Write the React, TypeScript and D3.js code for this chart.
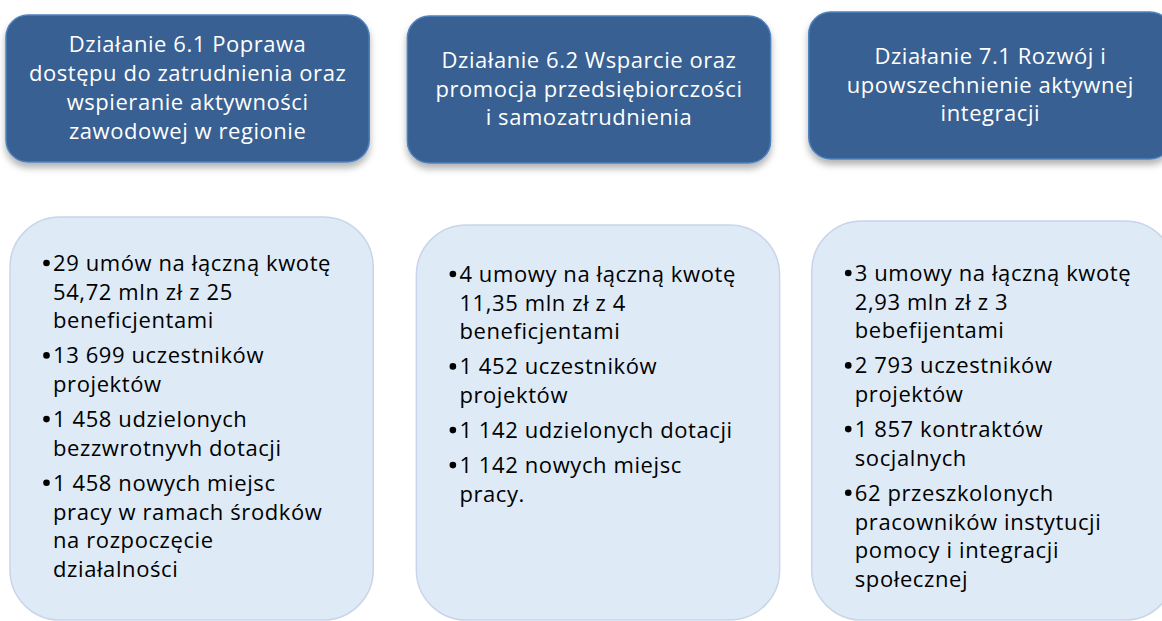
import React, { useEffect, useRef } from 'react';
import * as d3 from 'd3';

// three columns of the diagram
const columns = ['6.1', '6.2', '7.1'];

const headerLines = [
  ['Działanie 6.1 Poprawa', 'dostępu do zatrudnienia oraz', 'wspieranie aktywności', 'zawodowej w regionie'],
  ['Działanie 6.2 Wsparcie oraz', 'promocja przedsiębiorczości', 'i samozatrudnienia'],
  ['Działanie 7.1 Rozwój i', 'upowszechnienie aktywnej', 'integracji'],
];

// bullets, each bullet already broken into lines
const bullets61 = [
  ['29 umów na łączną kwotę', '54,72 mln zł z 25', 'beneficjentami'],
  ['13 699 uczestników', 'projektów'],
  ['1 458 udzielonych', 'bezzwrotnyvh dotacji'],
  ['1 458 nowych miejsc', 'pracy w ramach środków', 'na rozpoczęcie', 'działalności'],
];
const bullets62 = [
  ['4 umowy na łączną kwotę', '11,35 mln zł z 4', 'beneficjentami'],
  ['1 452 uczestników', 'projektów'],
  ['1 142 udzielonych dotacji'],
  ['1 142 nowych miejsc', 'pracy.'],
];
const bullets71 = [
  ['3 umowy na łączną kwotę', '2,93 mln zł z 3', 'bebefijentami'],
  ['2 793 uczestników', 'projektów'],
  ['1 857 kontraktów', 'socjalnych'],
  ['62 przeszkolonych', 'pracowników instytucji', 'pomocy i integracji', 'społecznej'],
];
const bulletLists = [bullets61, bullets62, bullets71];

const FONT = '"Open Sans", Lato, sans-serif';

const Diagram = () => {
  const svgRef = useRef<SVGSVGElement>(null);

  useEffect(() => {
    const width = 1162;
    const height = 621;
    const svg = d3.select(svgRef.current);
    svg.selectAll('*').remove();
    svg.attr('width', width).attr('height', height);

    const x = d3.scaleBand<string>()
      .domain(columns)
      .range([6, 1172])
      .paddingInner(0.095)
      .paddingOuter(0);
    const bw = x.bandwidth();

    const defs = svg.append('defs');
    const f = defs.append('filter').attr('id', 'shadow')
      .attr('x', '-10%').attr('y', '-10%').attr('width', '120%').attr('height', '140%');
    f.append('feDropShadow')
      .attr('dx', 0).attr('dy', 5).attr('stdDeviation', 3.5)
      .attr('flood-color', '#000').attr('flood-opacity', 0.3);

    const headTop = 15;
    const headH = 147;
    const headShift = [0, 1, -3];
    const lineH = 28.7;

    // header boxes
    const heads = svg.selectAll('.head')
      .data(columns)
      .enter()
      .append('g')
      .classed('head', true);

    heads.append('rect')
      .attr('x', d => x(d)!)
      .attr('y', (d, i) => headTop + headShift[i])
      .attr('width', bw)
      .attr('height', headH)
      .attr('rx', 22)
      .attr('fill', '#376092')
      .attr('stroke', '#4f81bd')
      .attr('stroke-width', 1.5)
      .attr('filter', 'url(#shadow)');

    heads.each(function (d, i) {
      const lines = headerLines[i];
      const cy = headTop + headShift[i] + headH / 2;
      const firstBase = cy - ((lines.length - 1) * lineH) / 2 + 7;
      d3.select(this).selectAll('text')
        .data(lines)
        .enter()
        .append('text')
        .attr('x', x(d)! + bw / 2)
        .attr('y', (_, j) => firstBase + j * lineH)
        .attr('text-anchor', 'middle')
        .style('font-family', FONT)
        .style('font-size', '22px')
        .style('letter-spacing', '0.55px')
        .style('fill', 'white')
        .text(t => t);
    });

    // bullet boxes
    const boxTop = 220;
    const boxH = 400;
    const gap = 6.3;
    const boxShift = [4, 9, 3];
    const boxDrop = [-3, 5, 1];
    const firstLine = [54, 57, 60];

    const boxes = svg.selectAll('.box')
      .data(columns)
      .enter()
      .append('g')
      .classed('box', true);

    boxes.append('rect')
      .attr('x', (d, i) => x(d)! + boxShift[i])
      .attr('y', (d, i) => boxTop + boxDrop[i])
      .attr('width', bw)
      .attr('height', (d, i) => boxH - boxDrop[i])
      .attr('rx', 50)
      .attr('fill', '#deeaf6')
      .attr('stroke', '#c8d5ea')
      .attr('stroke-width', 1.5);

    boxes.each(function (d, i) {
      const g = d3.select(this);
      const left = x(d)! + boxShift[i];
      let y = boxTop + boxDrop[i] + firstLine[i];
      bulletLists[i].forEach(item => {
        // bullet dot
        g.append('circle')
          .attr('cx', left + 36.5)
          .attr('cy', y - 8)
          .attr('r', 3.3)
          .attr('fill', '#000');
        item.forEach((line, j) => {
          g.append('text')
            .attr('x', left + 43)
            .attr('y', y + j * lineH)
            .style('font-family', FONT)
            .style('font-size', '22px')
            .style('letter-spacing', '0.6px')
            .style('fill', '#000')
            .text(line);
        });
        y += item.length * lineH + gap;
      });
    });
  }, []);

  return <svg ref={svgRef} style={{ position: 'absolute', left: 0, top: 0 }}></svg>;
};

export default function App() {
  return <Diagram />;
}
